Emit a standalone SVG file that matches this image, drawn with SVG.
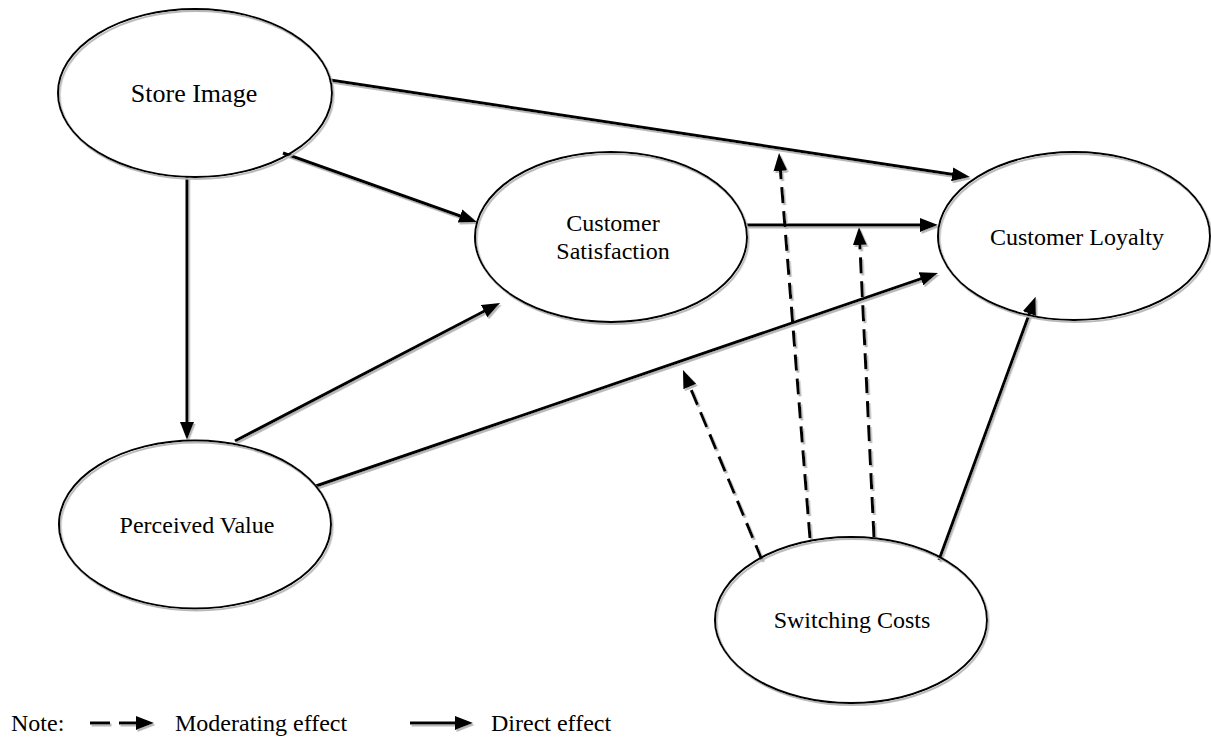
<svg xmlns="http://www.w3.org/2000/svg" width="1211" height="740" viewBox="0 0 1211 740">
<style>
.node{fill:none;stroke:#000;stroke-width:2}
.lbl{font-family:"Liberation Serif","Times New Roman",serif;font-size:24px;fill:#000;text-anchor:middle}
.lgd{font-family:"Liberation Serif","Times New Roman",serif;font-size:24px;fill:#000}
.c{fill:none;stroke:#000;stroke-width:3}
.d{fill:none;stroke:#000;stroke-width:3;stroke-dasharray:16 8}
</style>
<defs>
<filter id="sh" filterUnits="userSpaceOnUse" x="0" y="0" width="1211" height="740">
<feDropShadow dx="1.5" dy="2" stdDeviation="0.5" flood-color="#b8b8b8" flood-opacity="1"/>
</filter>
<marker id="ah" markerUnits="userSpaceOnUse" markerWidth="18" markerHeight="14" refX="6" refY="7" orient="auto">
<path d="M0,0 L18,7 L0,14 z" fill="#000"/>
</marker>
</defs>
<rect width="1211" height="740" fill="#fff"/>
<g id="connectors" filter="url(#sh)">
<line class="c" x1="330" y1="80" x2="958.1" y2="175.2" marker-end="url(#ah)"/>
<line class="c" x1="283" y1="153" x2="465.7" y2="218" marker-end="url(#ah)"/>
<line class="c" x1="187" y1="177" x2="187" y2="428" marker-end="url(#ah)"/>
<line class="c" x1="235" y1="441" x2="489.4" y2="308.5" marker-end="url(#ah)"/>
<line class="c" x1="316" y1="486" x2="926.6" y2="276.9" marker-end="url(#ah)"/>
<line class="c" x1="746" y1="225" x2="926" y2="225" marker-end="url(#ah)"/>
<line class="c" x1="939" y1="560" x2="1031.5" y2="307.9" marker-end="url(#ah)"/>
<line class="d" x1="762" y1="560" x2="687.6" y2="381.1" marker-end="url(#ah)"/>
<line class="d" x1="810" y1="538" x2="780" y2="165" marker-end="url(#ah)"/>
<line class="d" x1="874" y1="537" x2="859.6" y2="239" marker-end="url(#ah)"/>
</g>
<g id="store-image">
<ellipse class="node" cx="195" cy="93" rx="137" ry="84" filter="url(#sh)"/>
<text class="lbl" x="194" y="102" style="font-size:26px">Store Image</text>
</g>
<g id="customer-satisfaction">
<ellipse class="node" cx="611" cy="237" rx="136" ry="85" filter="url(#sh)"/>
<text class="lbl" x="613" y="231">Customer</text>
<text class="lbl" x="613" y="259">Satisfaction</text>
</g>
<g id="customer-loyalty">
<ellipse class="node" cx="1074" cy="236" rx="136" ry="84" filter="url(#sh)"/>
<text class="lbl" x="1077" y="245">Customer Loyalty</text>
</g>
<g id="perceived-value">
<ellipse class="node" cx="195" cy="524.5" rx="136" ry="84" filter="url(#sh)"/>
<text class="lbl" x="197" y="533">Perceived Value</text>
</g>
<g id="switching-costs">
<ellipse class="node" cx="851" cy="620" rx="136" ry="83" filter="url(#sh)"/>
<text class="lbl" x="852" y="628">Switching Costs</text>
</g>
<g id="legend">
<text class="lgd" x="11" y="731">Note:</text>
<g filter="url(#sh)">
<line class="c" x1="90" y1="723" x2="142" y2="723" style="stroke-dasharray:20 9" marker-end="url(#ah)"/>
<line class="c" x1="410" y1="723" x2="461" y2="723" marker-end="url(#ah)"/>
</g>
<text class="lgd" x="175" y="731">Moderating effect</text>
<text class="lgd" x="491" y="731">Direct effect</text>
</g>
</svg>
